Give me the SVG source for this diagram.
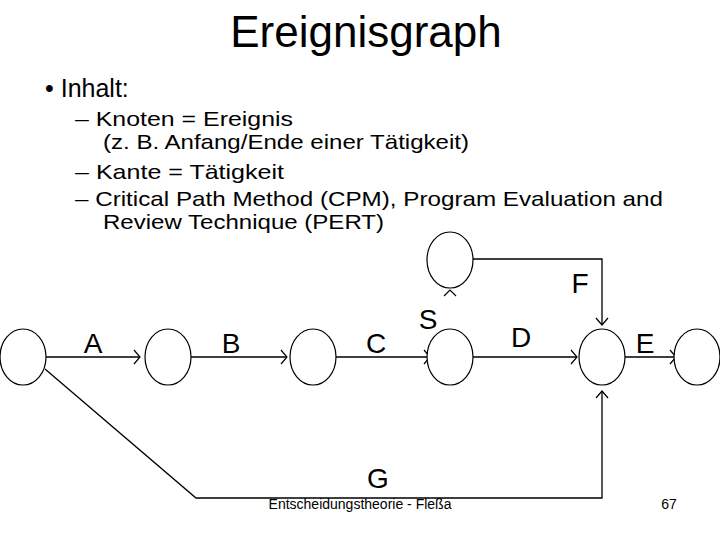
<svg xmlns="http://www.w3.org/2000/svg" width="720" height="540" viewBox="0 0 720 540">
<style>
text{font-family:"Liberation Sans",Arial,sans-serif;fill:#000}
.n{fill:#fff;stroke:#000;stroke-width:1.2}
.e{fill:none;stroke:#000;stroke-width:1.3}
.h{fill:none;stroke:#000;stroke-width:1.2}
.l{font-size:28px}
.b{font-size:21px}
</style>
<rect width="720" height="540" fill="#fff"/>
<text x="366" y="47" font-size="44" text-anchor="middle">Ereignisgraph</text>
<text x="45" y="97" font-size="25">• Inhalt:</text>
<text x="75" y="126" class="b" textLength="218" lengthAdjust="spacingAndGlyphs">– Knoten = Ereignis</text>
<text x="103" y="149" class="b" textLength="366" lengthAdjust="spacingAndGlyphs">(z. B. Anfang/Ende einer Tätigkeit)</text>
<text x="75" y="179" class="b" textLength="209" lengthAdjust="spacingAndGlyphs">– Kante = Tätigkeit</text>
<text x="75" y="206" class="b" textLength="588" lengthAdjust="spacingAndGlyphs">– Critical Path Method (CPM), Program Evaluation and</text>
<text x="103" y="229" class="b" textLength="281" lengthAdjust="spacingAndGlyphs">Review Technique (PERT)</text>
<g id="connectors">
<path class="e" d="M46 357H140M191 357H287M336 357H430M473 357H577M625 357H676"/>
<path class="h" d="M134 350L140 357L134 364M281 350L287 357L281 364M424 350L430 357L424 364M571 350L577 357L571 364M670 350L676 357L670 364"/>
<path class="e" d="M473 259H602V325"/>
<path class="h" d="M596 318L602 325L608 318"/>
<path class="e" d="M45 369L196 498H602V391"/>
<path class="h" d="M596 398L602 391L608 398"/>
<path class="h" d="M444 296L450 290L456 296"/>
</g>
<g id="n1"><ellipse class="n" cx="23" cy="357" rx="23" ry="28"/></g>
<g id="n2"><ellipse class="n" cx="168" cy="357" rx="23" ry="28"/></g>
<g id="n3"><ellipse class="n" cx="313" cy="357" rx="23" ry="28"/></g>
<g id="n4"><ellipse class="n" cx="450" cy="357" rx="23" ry="28"/></g>
<g id="n5"><ellipse class="n" cx="602" cy="357" rx="23" ry="28"/></g>
<g id="n6"><ellipse class="n" cx="697" cy="357" rx="23" ry="28"/></g>
<g id="n7"><ellipse class="n" cx="450" cy="260" rx="23" ry="28"/></g>
<text x="93" y="353" class="l" text-anchor="middle">A</text>
<text x="231" y="353" class="l" text-anchor="middle">B</text>
<text x="376" y="353" class="l" text-anchor="middle">C</text>
<text x="521" y="347" class="l" text-anchor="middle">D</text>
<text x="645" y="353" class="l" text-anchor="middle">E</text>
<text x="580" y="293" class="l" text-anchor="middle">F</text>
<text x="428" y="329" class="l" text-anchor="middle">S</text>
<text x="378" y="488" class="l" text-anchor="middle">G</text>
<text x="360" y="509" font-size="14" text-anchor="middle">Entscheidungstheorie - Fleßa</text>
<text x="669" y="509" font-size="14" text-anchor="middle">67</text>
</svg>
